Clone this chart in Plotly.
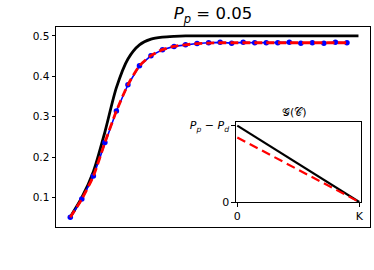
import plotly.graph_objects as go

# Main panel data
t_points = list(range(25))
sim_values = [0.051, 0.096, 0.153, 0.236, 0.314, 0.379, 0.426, 0.451, 0.466, 0.474,
              0.478, 0.481, 0.483, 0.484, 0.482, 0.484, 0.483, 0.483, 0.483, 0.484,
              0.482, 0.483, 0.482, 0.484, 0.483]
model_values = [0.051, 0.096, 0.153, 0.236, 0.314, 0.379, 0.426, 0.451, 0.466, 0.474,
                0.478, 0.481, 0.482, 0.483, 0.483, 0.483, 0.483, 0.483, 0.483, 0.483,
                0.483, 0.483, 0.483, 0.483, 0.483]
t_black = list(range(26))
black_values = [0.052, 0.100, 0.164, 0.262, 0.372, 0.443, 0.478, 0.492, 0.497, 0.499,
                0.5, 0.5, 0.5, 0.5, 0.5, 0.5, 0.5, 0.5, 0.5, 0.5,
                0.5, 0.5, 0.5, 0.5, 0.5, 0.5]
y_ticks = [0.1, 0.2, 0.3, 0.4, 0.5]
y_ticklabels = ["0.1", "0.2", "0.3", "0.4", "0.5"]

# Inset data
inset_x = [0, 1]
inset_black = [1.0, 0.0]
inset_red = [0.845, 0.0]
inset_xticks = [0, 1]
inset_xlabels = ["0", "K"]
inset_yticks = [0, 1]
inset_ylabels = ["0", "<i>P</i><sub><i>p</i></sub> − <i>P</i><sub><i>d</i></sub>"]

fig = go.Figure()
fig.add_trace(go.Scatter(x=t_black, y=black_values, mode="lines",
                         line=dict(color="black", width=2.8, shape="spline", smoothing=0.8),
                         showlegend=False))
fig.add_trace(go.Scatter(x=t_points, y=sim_values, mode="lines+markers",
                         line=dict(color="#0000ff", width=1.6),
                         marker=dict(color="#0000ff", size=5.5),
                         showlegend=False))
fig.add_trace(go.Scatter(x=t_points, y=model_values, mode="lines",
                         line=dict(color="#ff0000", width=2.8, dash="8px,4px",
                                   shape="spline", smoothing=0.6),
                         showlegend=False))

fig.add_trace(go.Scatter(x=inset_x, y=inset_black, mode="lines", xaxis="x2", yaxis="y2",
                         line=dict(color="black", width=2.2), showlegend=False))
fig.add_trace(go.Scatter(x=inset_x, y=inset_red, mode="lines", xaxis="x2", yaxis="y2",
                         line=dict(color="#ff0000", width=2.2, dash="9px,5px"),
                         showlegend=False))

axis_common = dict(showline=True, linecolor="black", linewidth=1, mirror=True,
                   showgrid=False, zeroline=False, automargin=False)

fig.update_layout(
    width=374, height=270,
    margin=dict(l=56, r=4, t=27, b=43),
    paper_bgcolor="white", plot_bgcolor="white",
    font=dict(family="DejaVu Sans", color="black", size=10.5),
    title=dict(text="<i>P</i><sub><i>p</i></sub> = 0.05", x=0.5695, xanchor="center",
               y=0.95, yanchor="middle", font=dict(size=16.5)),
    xaxis=dict(range=[-1.24, 26.0], showticklabels=False, ticks="", **axis_common),
    yaxis=dict(range=[0.027, 0.522], tickvals=y_ticks, ticktext=y_ticklabels,
               ticks="outside", ticklen=3.5, tickcolor="black", **axis_common),
    xaxis2=dict(domain=[0.5727, 0.9704], anchor="y2", range=[-0.012, 1.012],
                tickvals=inset_xticks, ticktext=inset_xlabels, ticks="outside",
                ticklen=3.5, tickcolor="black", tickfont=dict(size=11), **axis_common),
    yaxis2=dict(domain=[0.125, 0.524], anchor="x2", range=[0, 1.045],
                tickvals=inset_yticks, ticktext=inset_ylabels, ticks="outside",
                ticklen=3.5, tickcolor="black", tickfont=dict(size=11), **axis_common),
    annotations=[dict(text="𝒢(𝒞)", xref="x2 domain", yref="y2 domain", x=0.47, y=1.02,
                      xanchor="center", yanchor="bottom", showarrow=False,
                      font=dict(size=11))],
)

fig.write_html("out.html", config={"displayModeBar": False},
               post_script="document.body.style.margin='0px';document.body.style.padding='0px';")
